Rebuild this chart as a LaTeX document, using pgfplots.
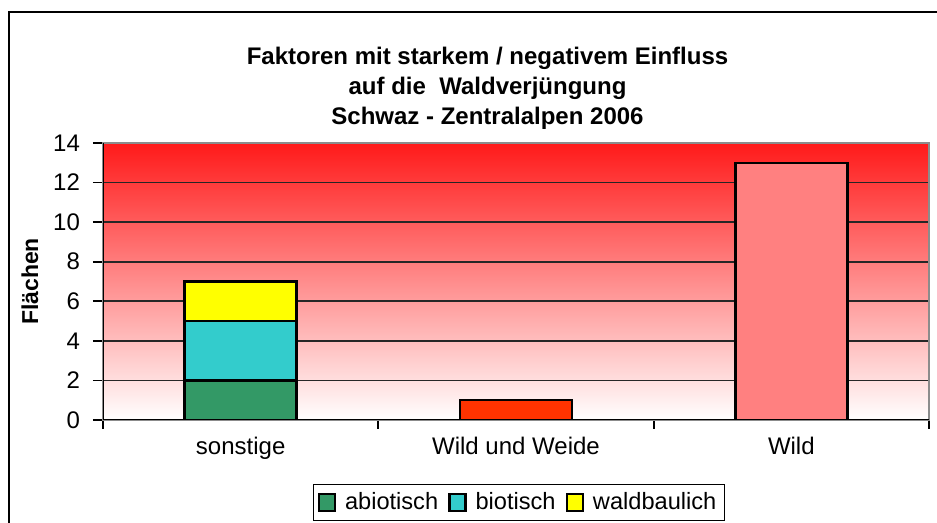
\documentclass[border=0pt]{standalone}
\usepackage{fontspec}
\setmainfont{Liberation Sans}
\usepackage{pgfplots}
\usepackage{pgfplotstable}
\pgfplotsset{compat=1.18}

\definecolor{abiot}{HTML}{339966}
\definecolor{biot}{HTML}{33CCCC}
\definecolor{waldb}{HTML}{FFFF00}
\definecolor{weide}{HTML}{FF3300}
\definecolor{wild}{HTML}{FF8080}
\definecolor{bgtop}{HTML}{FF1A1A}
\definecolor{bgmid}{HTML}{FFBFBF}

% Flaechen je Kategorie (0 = sonstige, 1 = Wild und Weide, 2 = Wild)
\pgfplotstableread{
x abiotisch biotisch waldbaulich weide wild
0 2 3 2 0 0
1 0 0 0 1 0
2 0 0 0 0 13
}\flaechen

\begin{document}
\begin{tikzpicture}
\useasboundingbox (0,0) rectangle (468.5pt,261.5pt);
\draw[line width=0.9pt] (4.5pt,-3pt) -- (4.5pt,255.5pt) -- (472pt,255.5pt);
\begin{axis}[
    at={(51.5pt,51.5pt)}, anchor=south west,
    scale only axis, width=413pt, height=138.5pt,
    ybar stacked, bar width=0.407,
    xmin=-0.5, xmax=2.5, ymin=0, ymax=14,
    xtick={0,1,2}, xticklabels={sonstige,Wild und Weide,Wild},
    minor xtick={-0.5,0.5,1.5,2.5},
    ytick={0,2,...,14},
    tick pos=left, tick align=outside,
    major tick length=5pt, minor tick length=4.5pt,
    major x tick style={draw=none},
    every tick/.style={black, line width=0.9pt},
    ymajorgrids, grid style={color=black!85, line width=0.9pt},
    axis line style={draw=black!45, line width=1pt},
    axis background/.style={top color=bgtop, middle color=bgmid, bottom color=white},
    ticklabel style={font=\fontsize{12}{14}\selectfont},
    yticklabel style={xshift=-3pt},
    /pgf/number format/assume math mode=true,
    ylabel={Flächen},
    ylabel style={font=\bfseries\fontsize{11.5}{14}\selectfont, at={(axis description cs:-0.0884,0.5)}, anchor=center},
    title={Faktoren mit starkem / negativem Einfluss\\auf die\ \ Waldverjüngung\\Schwaz - Zentralalpen 2006},
    title style={font=\bfseries\fontsize{12}{15}\selectfont, align=center, at={(0.4655,1)}, anchor=south, yshift=-2.6pt},
    every axis plot/.append style={draw=black, line width=1.2pt},
    legend entries={abiotisch,biotisch,waldbaulich},
    legend columns=3,
    legend style={at={(0.5036,0)}, anchor=center, yshift=-41.25pt, draw=black, line width=0.6pt,
        font=\fontsize{11.8}{14}\selectfont, inner xsep=2pt, inner ysep=2pt,
        /tikz/every odd column/.append style={column sep=2.5pt},
        /tikz/every even column/.append style={column sep=3pt}},
    legend image code/.code={\draw[#1, draw=black, line width=1.2pt] (0pt,-4.2pt) rectangle (8pt,4.2pt);},
]
\addplot[fill=abiot] table[x=x, y=abiotisch] {\flaechen};
\addplot[fill=biot] table[x=x, y=biotisch] {\flaechen};
\addplot[fill=waldb] table[x=x, y=waldbaulich] {\flaechen};
\addplot[fill=weide] table[x=x, y=weide] {\flaechen};
\addplot[fill=wild] table[x=x, y=wild] {\flaechen};
\draw[black, line width=1pt] (rel axis cs:0,1) -- (rel axis cs:0,0) -- (rel axis cs:1,0);
\end{axis}
\end{tikzpicture}
\end{document}
